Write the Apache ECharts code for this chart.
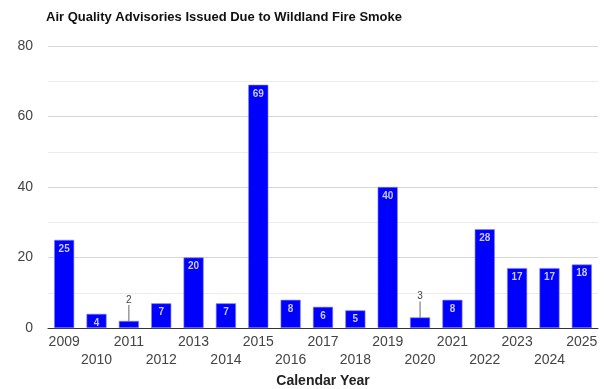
<!DOCTYPE html>
<html>
<head>
<meta charset="utf-8">
<script src="https://cdn.jsdelivr.net/npm/echarts@6/dist/echarts.min.js"></script>
<style>
  html, body { margin: 0; padding: 0; background: #fff; }
  #chart { width: 609px; height: 389px; }
</style>
</head>
<body>
<div id="chart"></div>
<script>
// Annual counts of wildfire-smoke air quality advisories
const years = ['2009','2010','2011','2012','2013','2014','2015','2016','2017',
               '2018','2019','2020','2021','2022','2023','2024','2025'];
const advisories = [25, 4, 2, 7, 20, 7, 69, 8, 6, 5, 40, 3, 8, 28, 17, 17, 18];
const yTicks = [0, 20, 40, 60, 80];

// Values too short to hold their label inside the bar get a label above with a guide line
const SMALL = 4;

const chart = echarts.init(document.getElementById('chart'));
chart.setOption({
  animation: false,
  textStyle: { fontFamily: 'Liberation Sans, Arial, sans-serif' },
  title: {
    text: 'Air Quality Advisories Issued Due to Wildland Fire Smoke',
    left: 41, top: 6,
    textStyle: { fontSize: 13, fontWeight: 'bold', color: '#111' }
  },
  grid: { left: 48, right: 11, top: 46, bottom: 61, outerBoundsMode: 'none', containLabel: false },
  xAxis: {
    type: 'category',
    data: years,
    axisTick: { show: false },
    axisLine: { lineStyle: { color: '#333', width: 1 } },
    axisLabel: {
      color: '#444', fontSize: 14, margin: 5, lineHeight: 18, interval: 0,
      formatter: (v, i) => (i % 2 ? '\n' + v : v)
    },
    name: 'Calendar Year',
    nameLocation: 'middle',
    nameGap: 42,
    nameTextStyle: { fontSize: 14, fontWeight: 'bold', color: '#222' }
  },
  yAxis: {
    type: 'value',
    min: yTicks[0], max: yTicks[yTicks.length - 1], interval: 20,
    axisLine: { show: false },
    axisTick: { show: false },
    axisLabel: { color: '#444', fontSize: 14, margin: 15 },
    splitLine: { lineStyle: { color: '#d6d6d6' } },
    minorTick: { show: false, splitNumber: 2 },
    minorSplitLine: { show: true, lineStyle: { color: '#ececec' } }
  },
  series: [{
    type: 'bar',
    barCategoryGap: '38%',
    data: advisories.map(v => ({
      value: v,
      label: v < SMALL
        ? { position: 'top', distance: 2, color: '#444', fontWeight: 'normal', fontSize: 10 }
        : undefined
    })),
    itemStyle: { color: '#0000ff', borderColor: '#7f7fff', borderWidth: 0.6 },
    label: {
      show: true,
      position: 'insideTop',
      distance: 4,
      color: '#c8c8ff',
      fontSize: 10,
      fontWeight: 'bold'
    },
    labelLine: { show: true, lineStyle: { color: '#666', width: 1 } },
    labelLayout: (p) => (advisories[p.dataIndex] < SMALL ? { dy: -14 } : {})
  }]
});
</script>
</body>
</html>
